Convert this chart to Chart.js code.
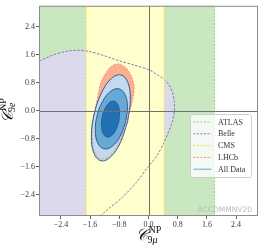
<!DOCTYPE html>
<html>
<head>
<meta charset="utf-8">
<script src="https://cdn.jsdelivr.net/npm/chart.js@4.4.1/dist/chart.umd.min.js"></script>
<style>
  html, body { margin: 0; padding: 0; background: #fff; }
  #wrap { width: 262px; height: 250px; }
</style>
</head>
<body>
<div id="wrap"><canvas id="grafico"></canvas></div>
<script>
// axis and ticks
const axisRange = [-3, 3];
const tickValues = [-2.4, -1.6, -0.8, 0, 0.8, 1.6, 2.4];

// allowed C9mu ranges (vertical bands)
const atlasRange = [-3.6, 1.81];
const cmsRange = [-1.71, 0.43];

// Belle allowed region (closed, runs out of the frame on the lower left)
const belleRegion = [
  [-3.6, 1.15], [-3.3, 1.28], [-3.0, 1.42], [-2.6, 1.6], [-2.2, 1.71], [-1.9, 1.73],
  [-1.6, 1.69], [-1.2, 1.57], [-0.8, 1.43], [-0.4, 1.31], [0.0, 1.18], [0.2, 1.06],
  [0.43, 0.9], [0.55, 0.76], [0.65, 0.55], [0.70, 0.3], [0.71, 0.0], [0.66, -0.28],
  [0.55, -0.6], [0.4, -0.95], [0.22, -1.3], [0.0, -1.58], [-0.3, -2.0], [-0.7, -2.45],
  [-1.1, -2.8], [-1.5, -3.15], [-1.9, -3.5], [-3.6, -3.6], [-3.6, 1.15]
];

// LHCb contour
const lhcbContour = [
  [-0.423, 0.367], [-0.492, 0.085], [-0.602, -0.282], [-0.782, -0.819], [-1.030, -1.257],
  [-1.293, -1.370], [-1.472, -1.186], [-1.54, -0.791], [-1.54, -0.4], [-1.47, 0.0],
  [-1.39, 0.395], [-1.307, 0.791], [-1.169, 1.073], [-1.017, 1.271], [-0.851, 1.342],
  [-0.671, 1.271], [-0.519, 1.088], [-0.423, 0.847], [-0.395, 0.621], [-0.423, 0.367]
];

// All Data contours, outer to inner
const allDataOuter = [
  [-0.572, -0.304], [-0.770, -0.903], [-1.038, -1.313], [-1.303, -1.423], [-1.496, -1.206],
  [-1.564, -0.719], [-1.488, -0.091], [-1.291, 0.507], [-1.023, 0.917], [-0.757, 1.028],
  [-0.565, 0.810], [-0.497, 0.323], [-0.572, -0.304]
];
const allDataMid = [
  [-0.628, -0.324], [-0.783, -0.739], [-1.001, -1.016], [-1.223, -1.082], [-1.390, -0.918],
  [-1.457, -0.569], [-1.406, -0.128], [-1.250, 0.287], [-1.032, 0.564], [-0.810, 0.630],
  [-0.643, 0.466], [-0.577, 0.117], [-0.628, -0.324]
];
const allDataInner = [
  [-0.810, -0.278], [-0.888, -0.529], [-1.006, -0.701], [-1.133, -0.749], [-1.236, -0.658],
  [-1.288, -0.454], [-1.272, -0.191], [-1.195, 0.060], [-1.077, 0.232], [-0.949, 0.280],
  [-0.846, 0.189], [-0.795, -0.015], [-0.810, -0.278]
];

const legendLabels = ["ATLAS", "Belle", "CMS", "LHCb", "All Data"];
const legendColors = ["#92cf8a", "#7c79b6", "#eee43a", "#f58a73", "#6f9fcf"];
const legendDashed = [true, true, true, true, false];

const pts = arr => arr.map(([x, y]) => ({ x, y }));
const band = (r) => pts([[r[0], -3.6], [r[1], -3.6], [r[1], 3.6], [r[0], 3.6], [r[0], -3.6]]);

const FONT_SERIF = '"Liberation Serif", "DejaVu Serif", serif';

const datasets = [
  { label: "ATLAS", data: band(atlasRange), backgroundColor: "#c9e7c1", borderColor: legendColors[0],
    borderDash: [2, 1.5], borderWidth: 1, fill: "shape", tension: 0, order: 7 },
  { label: "Belle", data: pts(belleRegion), backgroundColor: "#dadaeb", borderColor: legendColors[1],
    borderDash: [2.5, 1.5], borderWidth: 1, fill: "shape", tension: 0.3, order: 6 },
  { label: "CMS", data: band(cmsRange), backgroundColor: "#ffffcc", borderColor: legendColors[2],
    borderDash: [2, 1.5], borderWidth: 1, fill: "shape", tension: 0, order: 5 },
  { label: "LHCb", data: pts(lhcbContour), backgroundColor: "#fcae91", borderColor: legendColors[3],
    borderDash: [2, 1.5], borderWidth: 1, fill: "shape", tension: 0.4, order: 4 },
  { label: "All Data", data: pts(allDataOuter), backgroundColor: "#c2d9ee", borderColor: "#2f5f98",
    borderWidth: 1, fill: "shape", tension: 0.4, order: 3 },
  { label: "", data: pts(allDataMid), backgroundColor: "#67a9d5", borderColor: "#2f5f98",
    borderWidth: 1, fill: "shape", tension: 0.4, order: 2 },
  { label: "", data: pts(allDataInner), backgroundColor: "#2171b5", borderColor: "#2f5f98",
    borderWidth: 1, fill: "shape", tension: 0.4, order: 1 }
].map(d => Object.assign({ showLine: true, pointRadius: 0, pointHoverRadius: 0 }, d));

const fmt = v => (v < 0 ? "\u2212" : "") + Math.abs(v).toFixed(1);

function axisOptions(isX) {
  return {
    type: "linear",
    min: axisRange[0],
    max: axisRange[1],
    afterBuildTicks: s => { s.ticks = tickValues.map(v => ({ value: v })); },
    afterFit: s => { if (isX) s.height = 34; else s.width = 39; },
    border: { display: false },
    grid: { drawOnChartArea: false, drawTicks: true, tickLength: 3, tickColor: "#666" },
    ticks: {
      autoSkip: false,
      maxRotation: 0,
      padding: 1,
      color: "#3a3a3a",
      font: { family: FONT_SERIF, size: 8 },
      callback: v => fmt(v)
    }
  };
}

// script C with NP superscript and a subscript, baseline at (0,0)
function drawCoef(ctx, subNum, subLetter) {
  ctx.fillStyle = "#111";
  ctx.textBaseline = "alphabetic";
  ctx.textAlign = "left";
  ctx.font = 'italic 16px "DejaVu Serif", serif';
  ctx.fillText("\u{1D49E}", 0, 0);
  const w = ctx.measureText("\u{1D49E}").width;
  ctx.font = "10px " + FONT_SERIF;
  ctx.fillText("NP", w + 0.5, -7);
  ctx.fillText(subNum, w - 0.5, 2.5);
  const w9 = ctx.measureText(subNum).width;
  ctx.font = "italic 10px " + FONT_SERIF;
  ctx.fillText(subLetter, w - 0.5 + w9, 2.5);
}

const overlay = {
  id: "overlay",
  afterDatasetsDraw(chart) {
    const { ctx, chartArea: a, scales: { x, y } } = chart;
    ctx.save();
    // zero lines
    const x0 = Math.round(x.getPixelForValue(0)) + 0.5;
    const y0 = Math.round(y.getPixelForValue(0)) + 0.5;
    ctx.strokeStyle = "#707070";
    ctx.lineWidth = 1;
    ctx.beginPath();
    ctx.moveTo(x0, a.top); ctx.lineTo(x0, a.bottom);
    ctx.moveTo(a.left, y0); ctx.lineTo(a.right, y0);
    ctx.stroke();
    // frame
    ctx.strokeStyle = "#8c8c8c";
    ctx.strokeRect(a.left + 0.5, a.top + 0.5, a.right - a.left - 1, a.bottom - a.top - 1);

    // watermark
    ctx.font = '7.5px "DejaVu Sans", sans-serif';
    ctx.fillStyle = "#b9b9b9";
    ctx.textAlign = "right";
    ctx.textBaseline = "alphabetic";
    ctx.fillText("ACCDMMNV20", a.right - 6, a.bottom - 4);

    // legend box
    const lx = 190.5, ly = 114.5, lw = 61, lh = 63;
    ctx.beginPath();
    ctx.roundRect(lx, ly, lw, lh, 2);
    ctx.fillStyle = "rgba(255,255,255,0.8)";
    ctx.fill();
    ctx.strokeStyle = "#cfcfcf";
    ctx.stroke();
    ctx.font = "8px " + FONT_SERIF;
    ctx.textAlign = "left";
    ctx.textBaseline = "middle";
    legendLabels.forEach((lab, i) => {
      const yy = ly + 7.5 + i * 11.8;
      ctx.strokeStyle = legendColors[i];
      ctx.lineWidth = 1;
      ctx.setLineDash(legendDashed[i] ? [2, 1.5] : []);
      ctx.beginPath();
      ctx.moveTo(lx + 3, yy); ctx.lineTo(lx + 21, yy);
      ctx.stroke();
      ctx.fillStyle = "#333";
      ctx.fillText(lab, lx + 27.5, yy + 0.5);
    });
    ctx.restore();
  },
  afterDraw(chart) {
    const { ctx, chartArea: a } = chart;
    ctx.save();
    const cx = (a.left + a.right) / 2;
    ctx.translate(cx - 12.5, 240);
    drawCoef(ctx, "9", "\u03BC");
    ctx.restore();

    ctx.save();
    const cy = (a.top + a.bottom) / 2;
    ctx.translate(12.5, cy + 12.5);
    ctx.rotate(-Math.PI / 2);
    drawCoef(ctx, "9", "e");
    ctx.restore();
  }
};

new Chart(document.getElementById("grafico"), {
  type: "scatter",
  data: { datasets },
  options: {
    responsive: true,
    maintainAspectRatio: false,
    animation: false,
    layout: { padding: { top: 4, right: 4, left: 0, bottom: 0 } },
    plugins: {
      legend: { display: false },
      tooltip: { enabled: false },
      filler: { drawTime: "beforeDatasetsDraw" }
    },
    scales: { x: axisOptions(true), y: axisOptions(false) }
  },
  plugins: [overlay]
});
</script>
</body>
</html>
